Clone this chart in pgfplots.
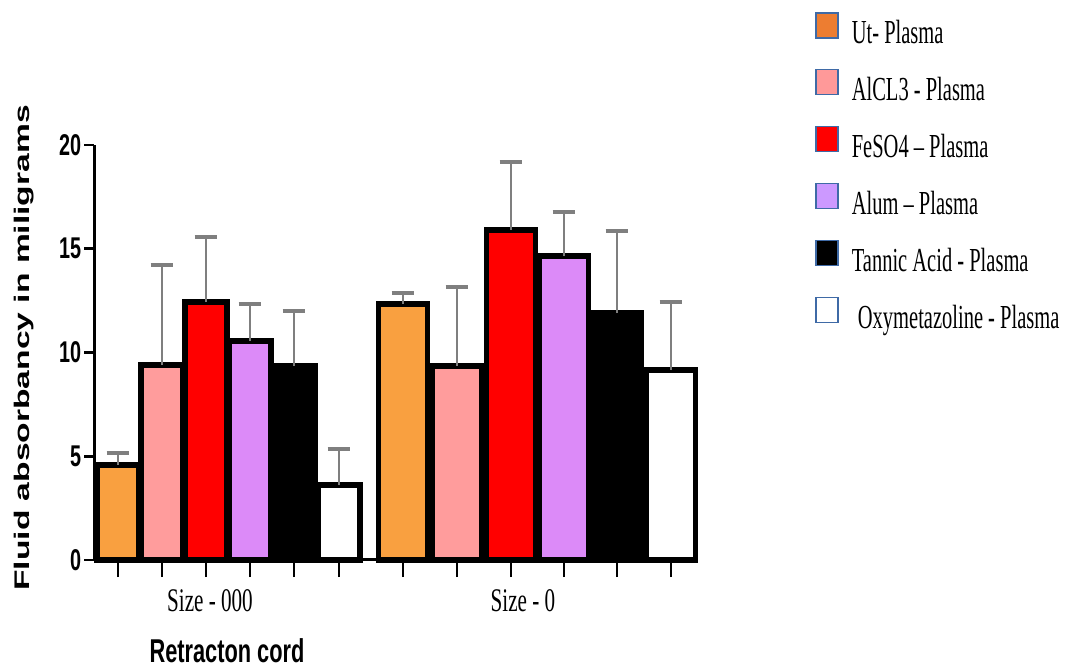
\documentclass[border=0pt]{standalone}
\usepackage{pgfplots}
\pgfplotsset{compat=1.18}
\usepackage{fontspec}
\setmainfont{Liberation Serif}
\setsansfont{Liberation Sans}
\usepackage{graphicx}
\definecolor{orB}{HTML}{F9A040}
\definecolor{orL}{HTML}{ED7D31}
\definecolor{piB}{HTML}{FF9C9C}
\definecolor{piL}{HTML}{FF9999}
\definecolor{reB}{HTML}{FF0000}
\definecolor{puB}{HTML}{DC8AF8}
\definecolor{puL}{HTML}{CC99FF}
\definecolor{legbl}{HTML}{3F6AA6}
\definecolor{errgray}{HTML}{7F7F7F}
\newcommand\sq[1]{\scalebox{0.61}[1]{#1}}
\pgfplotsset{bb/.style={ybar, bar shift=0pt, draw=black, line width=2.8pt, forget plot,
  /pgfplots/error bars/y dir=plus, /pgfplots/error bars/y explicit,
  /pgfplots/error bars/error bar style={line width=1.4pt, draw=errgray},
  /pgfplots/error bars/error mark options={rotate=90, mark size=5.7pt, line width=1.6pt, draw=errgray}}}
\begin{document}
\begin{tikzpicture}
\useasboundingbox (0,0) rectangle (535.5pt,334.5pt);
\begin{axis}[
  at={(47pt,54.5pt)}, anchor=south west,
  scale only axis, width=301.5pt, height=207.5pt,
  xmin=94, xmax=697, ymin=0, ymax=20, clip=false,
  axis lines*=left,
  axis line style={line width=1.5pt},
  tick align=outside,
  xtick={118,162,206,250,294,339,403,457,511,564,617,671},
  xticklabels={},
  ytick={0,5,10,15,20},
  yticklabels={\scalebox{0.66}[1]{0},\scalebox{0.66}[1]{5},\scalebox{0.66}[1]{10},\scalebox{0.66}[1]{15},\scalebox{0.66}[1]{20}},
  yticklabel style={font=\sffamily\bfseries\fontsize{15}{15}\selectfont, anchor=east, inner sep=0pt, xshift=-2pt},
  major tick style={line width=1.3pt, black},
  xtick style={/pgfplots/major tick length=8.5pt},
  ytick style={/pgfplots/major tick length=5pt},
  xlabel={\scalebox{0.66}[1]{Retracton cord}},
  xlabel style={font=\sffamily\bfseries\fontsize{16.5}{16.5}\selectfont, at={(axis description cs:0.2206,0)}, anchor=base, yshift=-51pt},
  ylabel={\scalebox{1}[0.63]{Fluid absorbancy in miligrams}},
  ylabel style={font=\sffamily\bfseries\fontsize{16.8}{16.8}\selectfont, at={(axis description cs:-0.116,0.511)}, anchor=center},
  legend image code/.code={\draw[#1] (0pt,-1pt) rectangle (11pt,11.5pt);},
  legend cell align=left,
  legend style={at={(axis description cs:1.1957,1.321)}, anchor=north west, draw=none, fill=none, inner sep=0pt,
    row sep=9.1pt, column sep=6.5pt, font=\fontsize{16.8}{16.8}\selectfont,
    nodes={inner sep=0pt, text height=11.5pt, text depth=3.5pt}},
]
% group Size - 000
\addplot[bb, fill=orB, bar width=42] coordinates {(118,4.58) +- (0,0.58)};
\addplot[bb, fill=piB, bar width=42] coordinates {(162,9.40) +- (0,4.82)};
\addplot[bb, fill=reB, bar width=42] coordinates {(206,12.43) +- (0,3.14)};
\addplot[bb, fill=puB, bar width=42] coordinates {(250,10.55) +- (0,1.79)};
\addplot[bb, fill=black, bar width=42] coordinates {(294,9.35) +- (0,2.65)};
\addplot[bb, fill=white, bar width=42] coordinates {(339,3.60) +- (0,1.75)};
% group Size - 0
\addplot[bb, fill=orB, bar width=49] coordinates {(403,12.34) +- (0,0.53)};
\addplot[bb, fill=piB, bar width=49] coordinates {(457,9.35) +- (0,3.81)};
\addplot[bb, fill=reB, bar width=49] coordinates {(511,15.90) +- (0,3.28)};
\addplot[bb, fill=puB, bar width=49] coordinates {(564,14.65) +- (0,2.12)};
\addplot[bb, fill=black, bar width=49] coordinates {(617,11.90) +- (0,3.96)};
\addplot[bb, fill=white, bar width=49] coordinates {(671,9.15) +- (0,3.28)};
% legend
\addlegendimage{fill=orL, draw=legbl, line width=0.7pt}
\addlegendentry{\sq{Ut- Plasma}}
\addlegendimage{fill=piL, draw=legbl, line width=0.7pt}
\addlegendentry{\sq{AlCL3 - Plasma}}
\addlegendimage{fill=reB, draw=legbl, line width=0.7pt}
\addlegendentry{\sq{FeSO4 -- Plasma}}
\addlegendimage{fill=puL, draw=legbl, line width=0.7pt}
\addlegendentry{\sq{Alum -- Plasma}}
\addlegendimage{fill=black, draw=legbl, line width=0.7pt}
\addlegendentry{\sq{Tannic Acid - Plasma}}
\addlegendimage{fill=white, draw=legbl, line width=0.7pt}
\addlegendentry{\sq{\hspace{5pt}Oxymetazoline - Plasma}}
% group labels
\node[anchor=base, font=\fontsize{16.5}{16.5}\selectfont] at (axis cs:210,0) [yshift=-26pt] {\scalebox{0.64}[1]{Size - 000}};
\node[anchor=base, font=\fontsize{16.5}{16.5}\selectfont] at (axis cs:523,0) [yshift=-26pt] {\scalebox{0.64}[1]{Size - 0}};
\end{axis}
\end{tikzpicture}
\end{document}
